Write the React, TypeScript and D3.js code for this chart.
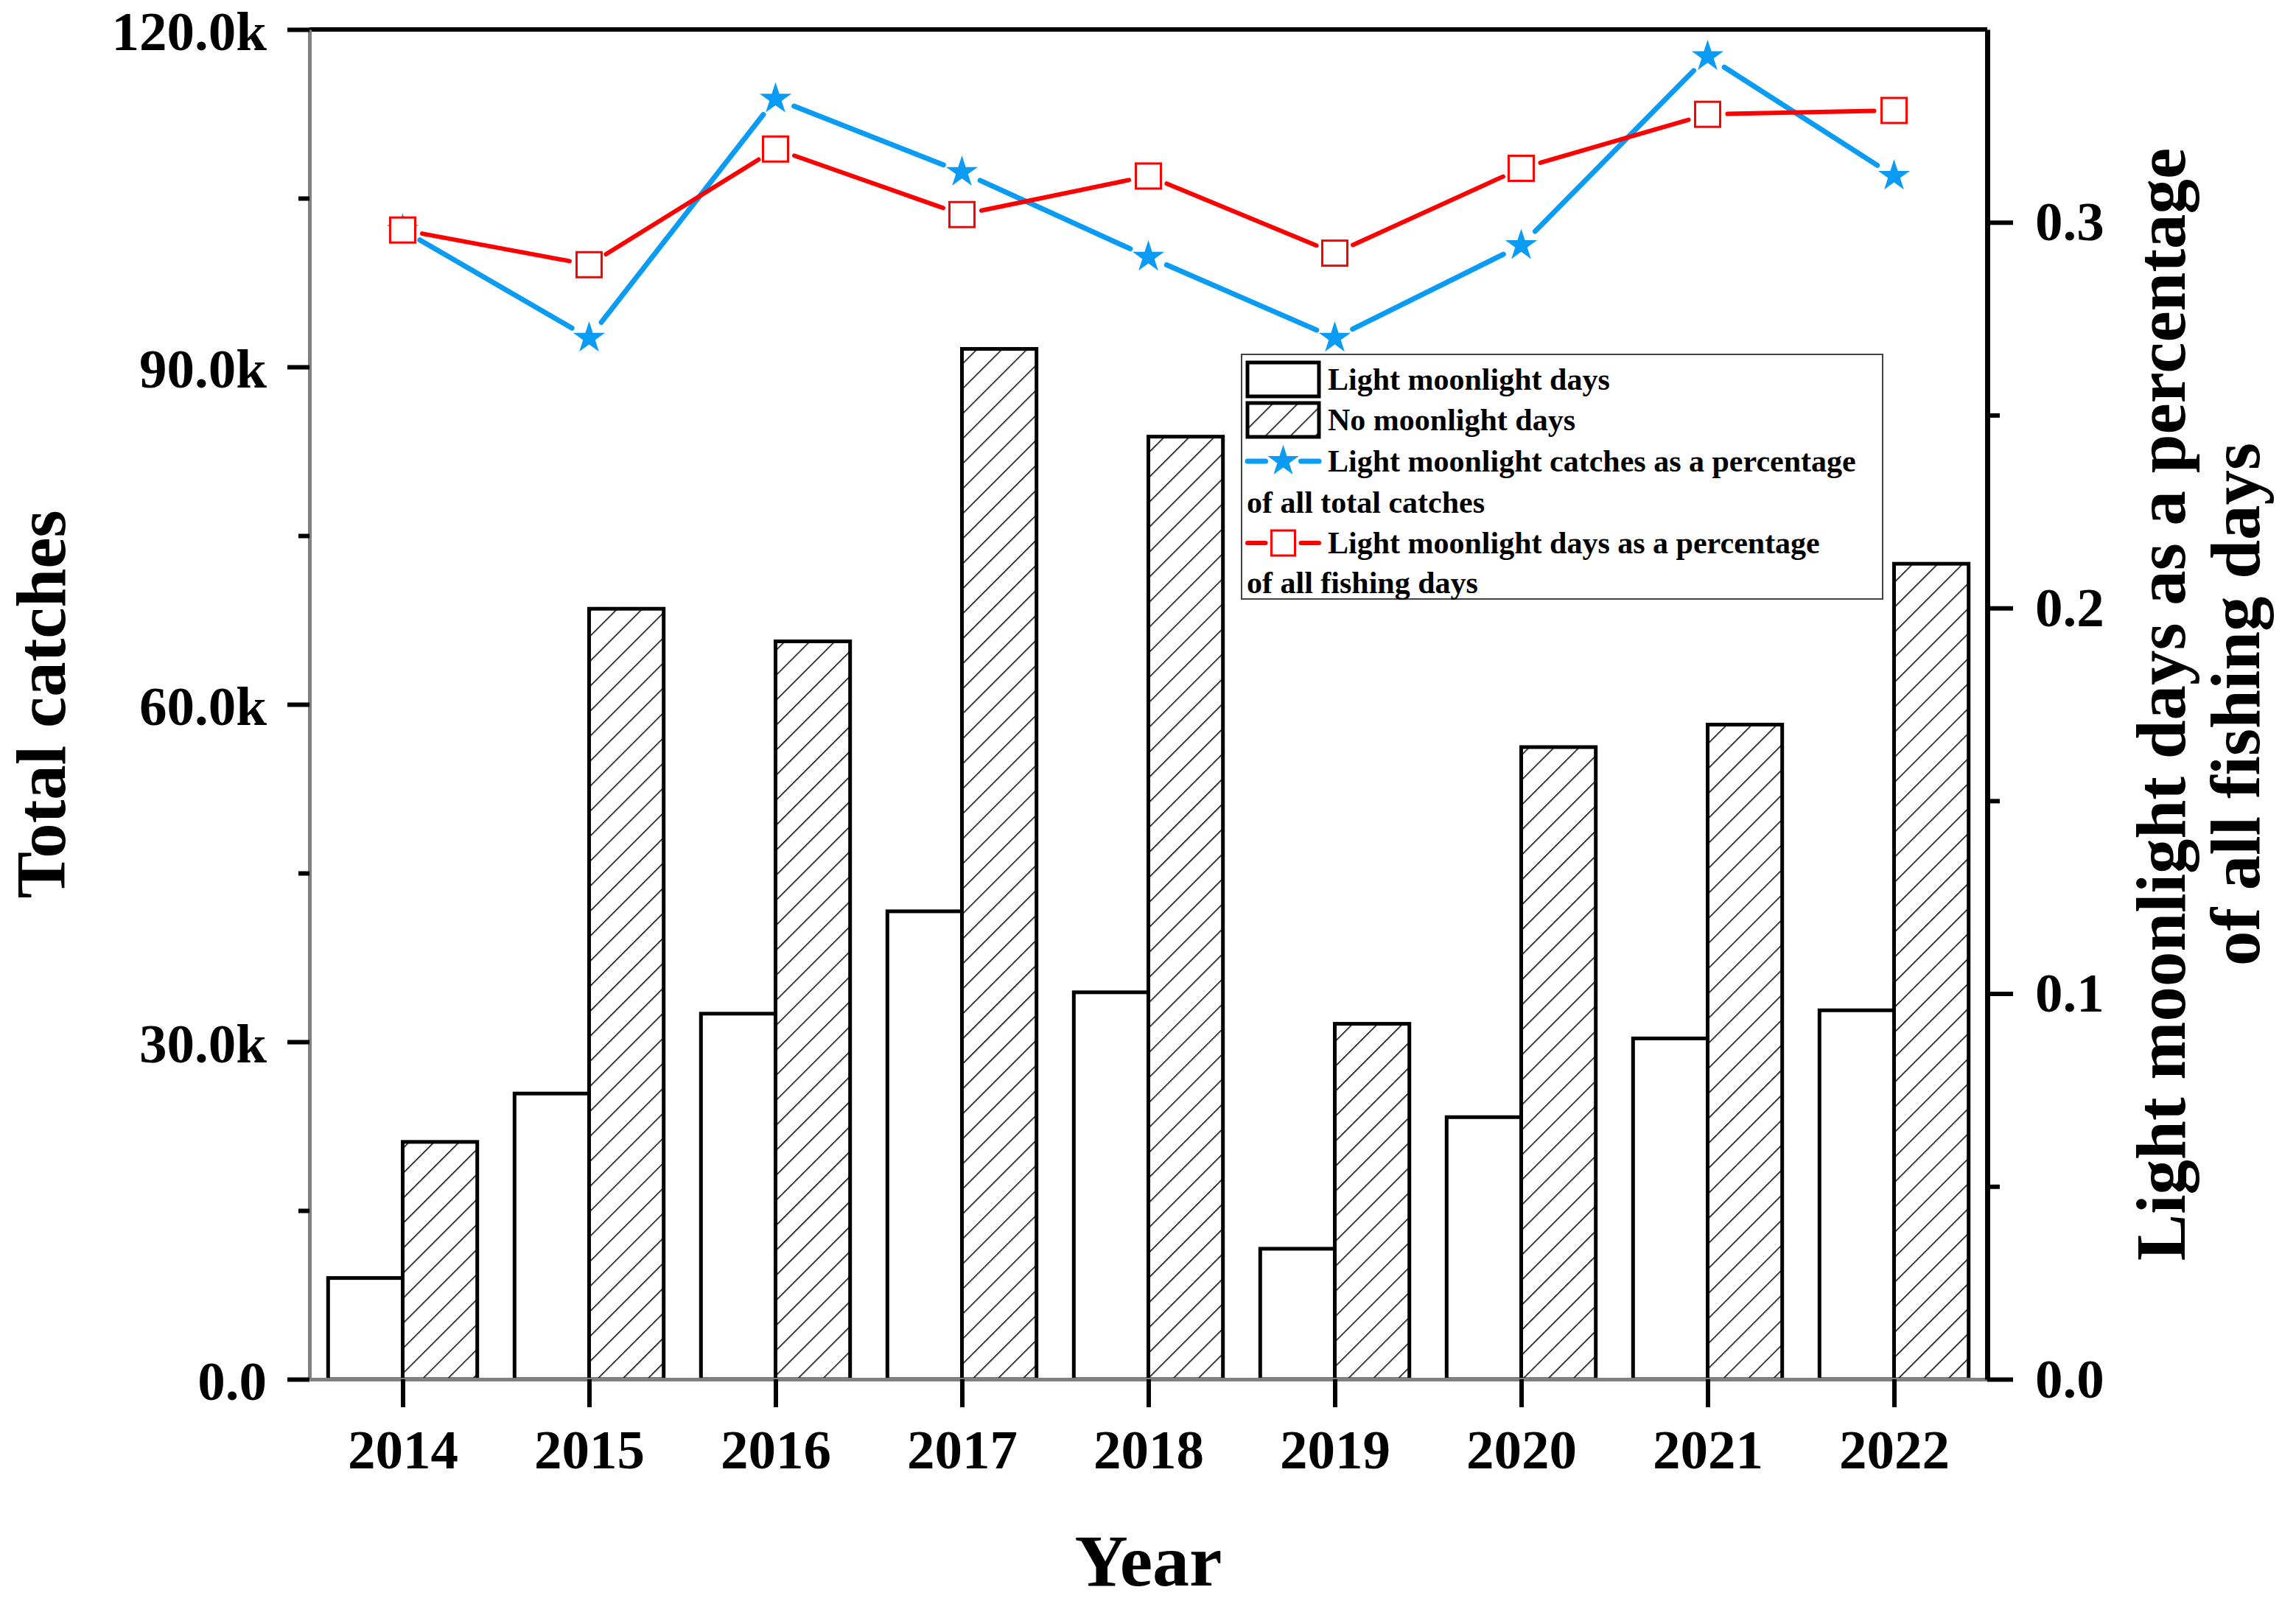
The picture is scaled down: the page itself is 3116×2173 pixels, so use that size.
import { useEffect, useRef } from 'react';
import * as d3 from 'd3';

const years = [2014, 2015, 2016, 2017, 2018, 2019, 2020, 2021, 2022];
// catches (thousands)
const lightCatches = [9.0, 25.4, 32.5, 41.6, 34.4, 11.6, 23.3, 30.3, 32.8];
const noMoonCatches = [21.1, 68.5, 65.6, 91.6, 83.8, 31.6, 56.2, 58.2, 72.5];
// shares on right axis
const catchShare = [0.298, 0.270, 0.332, 0.313, 0.291, 0.270, 0.294, 0.343, 0.312];
const dayShare = [0.298, 0.289, 0.319, 0.302, 0.312, 0.292, 0.314, 0.328, 0.329];

const leftMajor = [0, 30000, 60000, 90000, 120000];
const leftMinor = [15000, 45000, 75000, 105000];
const rightMajor = [0, 0.1, 0.2, 0.3];
const rightMinor = [0.05, 0.15, 0.25];

const W = 3116;
const H = 2173;
const FONT = '"Liberation Serif", "Times New Roman", serif';
const BLUE = '#0a9cf5';
const RED = '#ff0000';

export default function App() {
  const svgRef = useRef<SVGSVGElement>(null);

  useEffect(() => {
    if (!svgRef.current) return;
    const svg = d3.select(svgRef.current);
    svg.selectAll('*').remove();

    const left = 420, right = 2697, top = 40, bottom = 1872;

    const x = d3.scaleLinear().domain([2013.5, 2022.5]).range([left, right]);
    const yL = d3.scaleLinear().domain([0, 120000]).range([bottom, top]);
    const yR = d3.scaleLinear().domain([0, 0.35]).range([bottom, top]);
    const step = x(2015) - x(2014);
    const bw = step * 0.4;

    const defs = svg.append('defs');
    const pat = defs.append('pattern')
      .attr('id', 'hatch')
      .attr('patternUnits', 'userSpaceOnUse')
      .attr('width', 24)
      .attr('height', 24)
      .attr('patternTransform', 'rotate(45)');
    pat.append('rect').attr('width', 24).attr('height', 24).attr('fill', '#fff');
    pat.append('line')
      .attr('x1', 0).attr('y1', 0).attr('x2', 0).attr('y2', 24)
      .attr('stroke', '#000').attr('stroke-width', 3);

    svg.append('rect').attr('width', W).attr('height', H).attr('fill', '#fff');

    // bars
    const rows = years.map((yr, i) => ({ yr, light: lightCatches[i] * 1000, none: noMoonCatches[i] * 1000 }));
    svg.append('g').selectAll('rect')
      .data(rows).enter().append('rect')
      .attr('x', d => x(d.yr) - bw)
      .attr('y', d => yL(d.light))
      .attr('width', bw)
      .attr('height', d => bottom - yL(d.light))
      .attr('fill', '#fff')
      .attr('stroke', '#000')
      .attr('stroke-width', 5);
    svg.append('g').selectAll('rect')
      .data(rows).enter().append('rect')
      .attr('x', d => x(d.yr))
      .attr('y', d => yL(d.none))
      .attr('width', bw)
      .attr('height', d => bottom - yL(d.none))
      .attr('fill', 'url(#hatch)')
      .attr('stroke', '#000')
      .attr('stroke-width', 5);

    // axes
    const styleAxis = (g: any, domainColor: string, domainWidth: number) => {
      g.select('.domain').attr('stroke', domainColor).attr('stroke-width', domainWidth);
      g.selectAll('.tick line').attr('stroke', '#000').attr('stroke-width', 6);
      g.selectAll('.tick text')
        .attr('fill', '#000')
        .style('font-family', FONT)
        .style('font-weight', 'bold')
        .style('font-size', '75px');
    };

    svg.append('line')
      .attr('x1', left).attr('x2', right).attr('y1', top).attr('y2', top)
      .attr('stroke', '#000').attr('stroke-width', 6);

    const gl = svg.append('g').attr('transform', `translate(${left},0)`)
      .call(d3.axisLeft(yL).tickValues(leftMajor).tickSize(30).tickSizeOuter(0).tickPadding(28)
        .tickFormat(d => (Number(d) === 0 ? '0.0' : (Number(d) / 1000).toFixed(1) + 'k')));
    styleAxis(gl, '#808080', 5);
    gl.selectAll('.tick text').attr('dy', '0.36em');
    const glm = svg.append('g').attr('transform', `translate(${left},0)`)
      .call(d3.axisLeft(yL).tickValues(leftMinor).tickSize(15).tickFormat(() => ''));
    glm.select('.domain').remove();
    glm.selectAll('.tick line').attr('stroke', '#000').attr('stroke-width', 6);

    const gb = svg.append('g').attr('transform', `translate(0,${bottom})`)
      .call(d3.axisBottom(x).tickValues(years).tickSize(38).tickSizeOuter(0).tickPadding(30)
        .tickFormat(d3.format('d')));
    styleAxis(gb, '#808080', 5);

    const gr = svg.append('g').attr('transform', `translate(${right},0)`)
      .call(d3.axisRight(yR).tickValues(rightMajor).tickSize(35).tickSizeOuter(0).tickPadding(30)
        .tickFormat(d3.format('.1f')));
    styleAxis(gr, '#000', 7);
    const grm = svg.append('g').attr('transform', `translate(${right},0)`)
      .call(d3.axisRight(yR).tickValues(rightMinor).tickSize(17).tickFormat(() => ''));
    grm.select('.domain').remove();
    grm.selectAll('.tick line').attr('stroke', '#000').attr('stroke-width', 6);

    // lines with gaps around markers
    const drawSeries = (vals: number[], color: string, width: number) => {
      const pts = years.map((yr, i) => [x(yr), yR(vals[i])]);
      const gap = 27;
      const g = svg.append('g');
      for (let i = 0; i < pts.length - 1; i++) {
        const [x0, y0] = pts[i];
        const [x1, y1] = pts[i + 1];
        const len = Math.hypot(x1 - x0, y1 - y0);
        const ux = (x1 - x0) / len, uy = (y1 - y0) / len;
        g.append('line')
          .attr('x1', x0 + ux * gap).attr('y1', y0 + uy * gap)
          .attr('x2', x1 - ux * gap).attr('y2', y1 - uy * gap)
          .attr('stroke', color).attr('stroke-width', width)
          .attr('stroke-linecap', 'round');
      }
      return pts;
    };

    const bluePts = drawSeries(catchShare, BLUE, 7);
    svg.append('g').selectAll('path')
      .data(bluePts).enter().append('path')
      .attr('transform', d => `translate(${d[0]},${d[1]})`)
      .attr('d', d3.symbol().type(d3.symbolStar).size(580)())
      .attr('fill', BLUE);

    const redPts = drawSeries(dayShare, RED, 6);
    svg.append('g').selectAll('rect')
      .data(redPts).enter().append('rect')
      .attr('x', d => d[0] - 17).attr('y', d => d[1] - 17)
      .attr('width', 34).attr('height', 34)
      .attr('fill', '#fff').attr('stroke', RED).attr('stroke-width', 3);

    // legend
    const lg = svg.append('g');
    lg.append('rect')
      .attr('x', 1685).attr('y', 481).attr('width', 870).attr('height', 332)
      .attr('fill', '#fff').attr('stroke', '#444').attr('stroke-width', 2);
    const rowY = [515, 570, 626, 682, 737, 791];
    const symX0 = 1693, symX1 = 1790, symC = 1741.5, textX = 1802, contX = 1692;
    const addText = (tx: number, ty: number, s: string) =>
      lg.append('text')
        .attr('x', tx).attr('y', ty + 14)
        .style('font-family', FONT).style('font-weight', 'bold').style('font-size', '42px')
        .attr('fill', '#000').text(s);

    lg.append('rect').attr('x', symX0).attr('y', rowY[0] - 23).attr('width', symX1 - symX0).attr('height', 46)
      .attr('fill', '#fff').attr('stroke', '#000').attr('stroke-width', 5);
    addText(textX, rowY[0], 'Light moonlight days');

    lg.append('rect').attr('x', symX0).attr('y', rowY[1] - 23).attr('width', symX1 - symX0).attr('height', 46)
      .attr('fill', 'url(#hatch)').attr('stroke', '#000').attr('stroke-width', 5);
    addText(textX, rowY[1], 'No moonlight days');

    const legLine = (cy: number, color: string, w: number) => {
      [[symX0, symC - 24], [symC + 24, symX1]].forEach(([a, b]) => {
        lg.append('line').attr('x1', a).attr('x2', b).attr('y1', cy).attr('y2', cy)
          .attr('stroke', color).attr('stroke-width', w).attr('stroke-linecap', 'round');
      });
    };
    legLine(rowY[2], BLUE, 7);
    lg.append('path')
      .attr('transform', `translate(${symC},${rowY[2]})`)
      .attr('d', d3.symbol().type(d3.symbolStar).size(560)())
      .attr('fill', BLUE);
    addText(textX, rowY[2], 'Light moonlight catches as a percentage');
    addText(contX, rowY[3], 'of all total catches');

    legLine(rowY[4], RED, 6);
    lg.append('rect').attr('x', symC - 16).attr('y', rowY[4] - 17).attr('width', 32).attr('height', 34)
      .attr('fill', '#fff').attr('stroke', RED).attr('stroke-width', 3);
    addText(textX, rowY[4], 'Light moonlight days as a percentage');
    addText(contX, rowY[5], 'of all fishing days');

    // axis titles
    const title = (s: string, tx: number, ty: number, rot: number, size: number) =>
      svg.append('text')
        .attr('transform', `translate(${tx},${ty}) rotate(${rot})`)
        .attr('text-anchor', 'middle')
        .style('font-family', FONT).style('font-weight', 'bold').style('font-size', `${size}px`)
        .attr('fill', '#000').text(s);

    title('Year', (left + right) / 2, 2152, 0, 100);
    title('Total catches', 88, (top + bottom) / 2, -90, 95);
    title('Light moonlight days as a percentage', 2965, (top + bottom) / 2, -90, 95);
    title('of all fishing days', 3066, (top + bottom) / 2, -90, 95);
  }, []);

  return (
    <div style={{ position: 'absolute', left: 0, top: 0 }}>
      <svg ref={svgRef} width={W} height={H} style={{ display: 'block' }}></svg>
    </div>
  );
}
